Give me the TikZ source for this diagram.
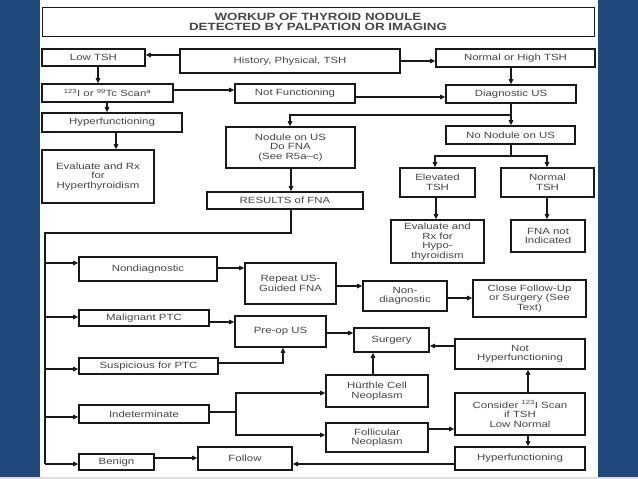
\documentclass[tikz,border=0pt]{standalone}
\usepackage{fontspec}
\setmainfont{Liberation Sans}[FakeStretch=1.27]
\usetikzlibrary{arrows.meta}
\definecolor{bgblue}{RGB}{31,73,125}
\definecolor{txt}{RGB}{70,70,70}
\definecolor{edge}{RGB}{25,25,25}
\newcommand\bx[7][]{\node[box,#1,minimum width={(#5-#3)*1pt},minimum height={(#6-#4)*1pt}] (#2) at ({(#3+#5)/2},{(#4+#6)/2}) {#7};}
\begin{document}
\begin{tikzpicture}[x=1pt,y=-1pt,
  box/.style={draw=edge,line width=1.7pt,inner sep=0pt,align=center,
    font=\fontsize{9}{9.5}\selectfont,text=txt},
  arr/.style={draw=edge,line width=1.1pt,-{Triangle[length=5pt,width=4.5pt]}},
  ln/.style={draw=edge,line width=1.1pt}]
\fill[bgblue] (0,0) rectangle (638,479);
\fill[white] (40,0) rectangle (598,477);
\fill[gray!25] (0,477) rectangle (638,479);
\useasboundingbox (0,0) rectangle (638,479);

\bx[line width=1pt,font=\fontsize{10.5}{10}\selectfont\bfseries]{title}{42}{7}{594}{36}{WORKUP OF THYROID NODULE\\DETECTED BY PALPATION OR IMAGING}
\bx[line width=2.5pt]{hist}{180}{49}{400}{73}{History, Physical, TSH}
\bx{low}{42}{49}{145}{66}{Low TSH}
\bx{nh}{436}{49}{595}{67}{Normal or High TSH}
\bx{scan}{42}{84}{173}{102}{\textsuperscript{123}I or \textsuperscript{99}Tc Scan\textsuperscript{a}}
\bx{nf}{235}{84}{355}{103}{Not Functioning}
\bx{dus}{446}{85}{576}{103}{Diagnostic US}
\bx{hyp1}{42}{113}{182}{132}{Hyperfunctioning}
\bx{evh}{42}{150}{154}{203}{Evaluate and Rx\\for\\Hyperthyroidism}
\bx{nod}{226}{127}{355}{168}{Nodule on US\\Do FNA\\(See R5a–c)}
\bx{res}{207}{192}{363}{209}{RESULTS of FNA}
\bx{nonod}{446}{126}{575}{144}{No Nodule on US}
\bx{etsh}{400}{168}{475}{197}{Elevated\\TSH}
\bx{ntsh}{501}{168}{594}{197}{Normal\\TSH}
\bx{evhypo}{391}{220}{484}{263}{Evaluate and\\Rx for\\Hypo-\\thyroidism}
\bx{fnani}{511}{220}{585}{252}{FNA not\\Indicated}
\bx{nondiag}{79}{257}{217}{281}{Nondiagnostic}
\bx{repeat}{245}{263}{336}{304}{Repeat US-\\Guided FNA}
\bx{nondiagb}{363}{281}{447}{311}{Non-\\diagnostic}
\bx{close}{473}{280}{586}{317}{Close Follow-Up\\or Surgery (See\\Text)}
\bx{mal}{79}{310}{209}{326}{Malignant PTC}
\bx{preop}{235}{316}{326}{347}{Pre-op US}
\bx{susp}{79}{358}{218}{374}{Suspicious for PTC}
\bx{surg}{354}{328}{429}{352}{Surgery}
\bx{noth}{455}{339}{585}{369}{Not\\Hyperfunctioning}
\bx{hurt}{326}{375}{428}{407}{Hürthle Cell\\Neoplasm}
\bx{indet}{79}{405}{209}{423}{Indeterminate}
\bx{foll}{326}{423}{428}{452}{Follicular\\Neoplasm}
\bx{cons}{455}{393}{585}{435}{Consider \textsuperscript{123}I Scan\\if TSH\\Low Normal}
\bx{hyp2}{455}{447}{585}{470}{Hyperfunctioning}
\bx{benign}{79}{454}{154}{470}{Benign}
\bx{follow}{198}{447}{292}{470}{Follow}

% upper connectors
\draw[arr] (hist.west |- 0,55) -- (low.east |- 0,55);
\draw[arr] (hist.east |- 0,61) -- (nh.west |- 0,61);
\draw[arr] (low.south -| 98,0) -- (scan.north -| 98,0);
\draw[arr] (scan.east |- 0,90) -- (nf.west |- 0,90);
\draw[arr] (nf.east |- 0,97) -- (dus.west |- 0,97);
\draw[arr] (nh.south -| 511,0) -- (dus.north -| 511,0);
\draw[arr] (scan.south -| 107,0) -- (hyp1.north -| 107,0);
\draw[arr] (hyp1.south -| 116,0) -- (evh.north -| 116,0);
\draw[arr] (dus.south -| 511,0) -- (nonod.north -| 511,0);
\coordinate (sp1) at (511,115);
\draw[arr] (sp1) -| (nod.north -| 290,0);
\draw[arr] (nod.south -| 291,0) -- (res.north -| 291,0);
\coordinate (sp2) at (511,156);
\draw[ln] (nonod.south -| 511,0) -- (sp2);
\draw[arr] (sp2) -| (etsh.north -| 435,0);
\draw[arr] (sp2) -| (ntsh.north -| 547,0);
\draw[arr] (etsh.south -| 436,0) -- (evhypo.north -| 436,0);
\draw[arr] (ntsh.south -| 547,0) -- (fnani.north -| 547,0);

% trunk
\coordinate (tr0) at (45,233);
\coordinate (tr1) at (45,464);
\draw[ln] (res.south -| 291,0) |- (tr0) -- (tr1);
\draw[arr] (tr0 |- 0,263) -- (nondiag.west |- 0,263);
\draw[arr] (tr0 |- 0,317) -- (mal.west |- 0,317);
\draw[arr] (tr0 |- 0,369) -- (susp.west |- 0,369);
\draw[arr] (tr0 |- 0,417) -- (indet.west |- 0,417);
\draw[arr] (tr1) -- (benign.west |- 0,464);

% lower connectors
\draw[arr] (nondiag.east |- 0,268) -- (repeat.west |- 0,268);
\draw[arr] (repeat.east |- 0,286) -- (nondiagb.west |- 0,286);
\draw[arr] (nondiagb.east |- 0,298) -- (close.west |- 0,298);
\draw[arr] (mal.east |- 0,322) -- (preop.west |- 0,322);
\draw[arr] (susp.east |- 0,363) -| (preop.south -| 283,0);
\draw[arr] (preop.east |- 0,333) -- (surg.west |- 0,333);
\draw[arr] (noth.west |- 0,346) -- (surg.east |- 0,346);
\draw[arr] (hurt.north -| 373,0) -- (surg.south -| 373,0);
\coordinate (sp3) at (236,412);
\draw[ln] (indet.east |- 0,412) -- (sp3);
\draw[arr] (sp3) |- (hurt.west |- 0,393);
\draw[arr] (sp3) |- (foll.west |- 0,435);
\draw[arr] (foll.east |- 0,429) -- (cons.west |- 0,429);
\draw[arr] (cons.north -| 528,0) -- (noth.south -| 528,0);
\draw[arr] (cons.south -| 528,0) -- (hyp2.north -| 528,0);
\draw[arr] (hyp2.west |- 0,464) -- (follow.east |- 0,464);
\draw[arr] (benign.east |- 0,458) -- (follow.west |- 0,458);
\end{tikzpicture}
\end{document}
